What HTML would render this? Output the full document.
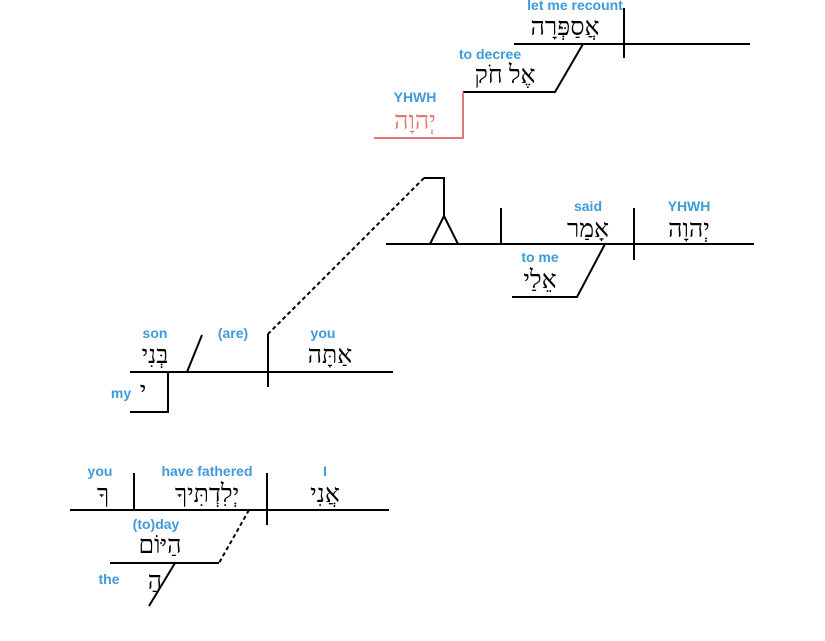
<!DOCTYPE html>
<html><head><meta charset="utf-8"><style>
html,body{margin:0;padding:0;background:#fff;}
svg{display:block;}
.l{font-family:"Liberation Sans",sans-serif;font-size:14px;font-weight:bold;fill:#3f9ad9;text-anchor:middle;}
.h{font-family:"Liberation Serif","DejaVu Serif",serif;font-size:25px;fill:#000;text-anchor:middle;direction:rtl;}
</style></head><body>
<svg width="825" height="641" viewBox="0 0 825 641" xmlns="http://www.w3.org/2000/svg">
<g stroke="#000" stroke-width="2" fill="none">
<line x1="514" y1="44" x2="750" y2="44"/>
<line x1="624" y1="8" x2="624" y2="58"/>
<polyline points="583,44 555,92 463,92"/>
<polyline points="463,92 463,138 374,138" stroke="#e07a7a"/>
<line x1="386" y1="244" x2="754" y2="244"/>
<line x1="634" y1="208" x2="634" y2="260"/>
<line x1="501" y1="208" x2="501" y2="244"/>
<polyline points="430,244 444,216 458,244"/>
<polyline points="424,178 444,178 444,216"/>
<line x1="424" y1="178" x2="268" y2="334" stroke-dasharray="4,3"/>
<polyline points="605,244 577,297 512,297"/>
<line x1="130" y1="372" x2="393" y2="372"/>
<line x1="268" y1="334" x2="268" y2="387"/>
<line x1="187" y1="372" x2="202" y2="335"/>
<polyline points="168,372 168,412 130,412"/>
<line x1="70" y1="510" x2="389" y2="510"/>
<line x1="134" y1="473" x2="134" y2="510"/>
<line x1="267" y1="473" x2="267" y2="525"/>
<line x1="249" y1="510" x2="219" y2="563" stroke-dasharray="4,3"/>
<line x1="110" y1="563" x2="219" y2="563"/>
<line x1="175" y1="563" x2="149" y2="606"/>
</g>
<text class="l" x="575" y="10">let me recount</text>
<text class="h" x="565" y="35">אֲסַפְּרָה</text>
<text class="l" x="490" y="59">to decree</text>
<text class="h" x="505" y="83">אֶל חֹק</text>
<text class="l" x="415" y="102">YHWH</text>
<text class="h" x="415" y="129" style="fill:#e07a7a">יְהוָה</text>
<text class="l" x="588" y="211">said</text>
<text class="h" x="588" y="237">אָמַר</text>
<text class="l" x="689" y="211">YHWH</text>
<text class="h" x="689" y="237">יְהוָה</text>
<text class="l" x="540" y="262">to me</text>
<text class="h" x="540" y="288">אֵלַי</text>
<text class="l" x="155" y="338">son</text>
<text class="h" x="155" y="363">בְּנִי</text>
<text class="l" x="233" y="338">(are)</text>
<text class="l" x="323" y="338">you</text>
<text class="h" x="330" y="363">אַתָּה</text>
<text class="l" x="121" y="398">my</text>
<text class="h" x="143" y="399">י</text>
<text class="l" x="100" y="476">you</text>
<text class="h" x="103" y="502">ךָ</text>
<text class="l" x="207" y="476">have fathered</text>
<text class="h" x="207" y="502">יְלִדְתִּיךָ</text>
<text class="l" x="325" y="476">I</text>
<text class="h" x="325" y="502">אֲנִי</text>
<text class="l" x="156" y="529">(to)day</text>
<text class="h" x="160" y="553">הַיּוֹם</text>
<text class="l" x="109" y="584">the</text>
<text class="h" x="155" y="589">הַ</text>
</svg>
</body></html>
